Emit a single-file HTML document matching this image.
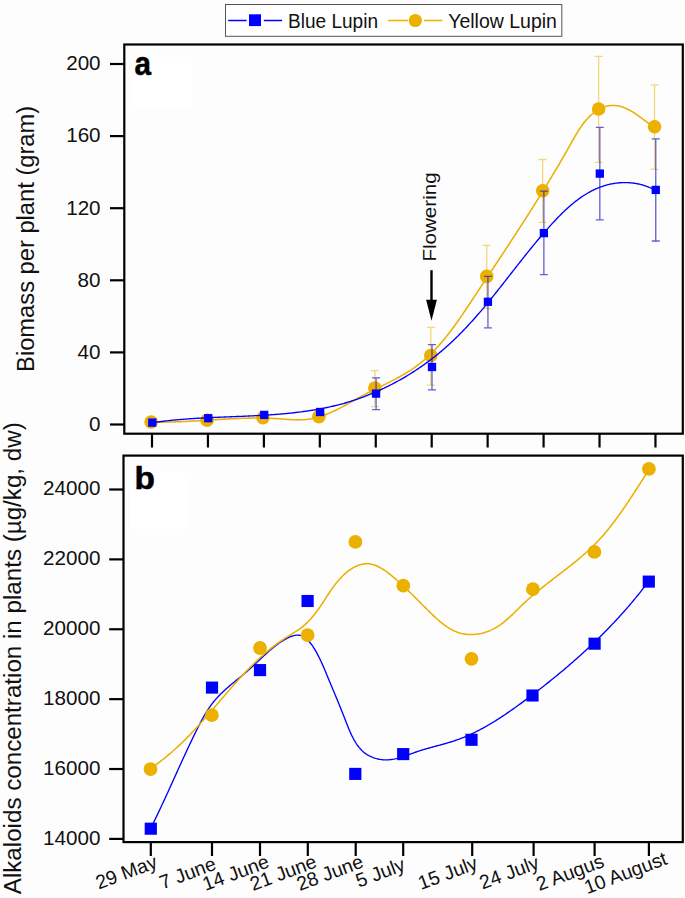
<!DOCTYPE html><html><head><meta charset="utf-8"><style>html,body{margin:0;padding:0;background:#fdfdfd;}svg{display:block;}text{font-family:"Liberation Sans", sans-serif;}</style></head><body>
<svg width="685" height="898" viewBox="0 0 685 898">
<rect x="0" y="0" width="685" height="898" fill="#fdfdfd"/>
<rect x="225.5" y="4.5" width="336.3" height="31.8" fill="#fff" stroke="#555" stroke-width="1"/>
<path d="M228.2,20.5 H246.6 M263.8,20.5 H282.1" stroke="#0000ff" stroke-width="1.6"/>
<rect x="249" y="14.3" width="12" height="11.8" fill="#0000ff"/>
<text x="288" y="28" font-size="20" fill="#111" textLength="90" lengthAdjust="spacingAndGlyphs">Blue Lupin</text>
<path d="M388.1,20.5 H408 M424,20.5 H442.4" stroke="#ebb000" stroke-width="1.6"/>
<circle cx="415.3" cy="20.5" r="6.6" fill="#ebb000"/>
<text x="448.2" y="28" font-size="20" fill="#111" textLength="108.7" lengthAdjust="spacingAndGlyphs">Yellow Lupin</text>
<rect x="132.2" y="56.7" width="60.7" height="50.2" fill="#fff"/>
<rect x="124.30" y="44.50" width="558.50" height="389.20" fill="none" stroke="#000" stroke-width="2.2"/>
<line x1="110" y1="424.50" x2="124.3" y2="424.50" stroke="#000" stroke-width="2.2"/>
<text transform="translate(100.6,430.80) scale(1.06,1)" font-size="19.5" text-anchor="end" fill="#111">0</text>
<line x1="110" y1="352.40" x2="124.3" y2="352.40" stroke="#000" stroke-width="2.2"/>
<text transform="translate(100.6,358.70) scale(1.06,1)" font-size="19.5" text-anchor="end" fill="#111">40</text>
<line x1="110" y1="280.30" x2="124.3" y2="280.30" stroke="#000" stroke-width="2.2"/>
<text transform="translate(100.6,286.60) scale(1.06,1)" font-size="19.5" text-anchor="end" fill="#111">80</text>
<line x1="110" y1="208.20" x2="124.3" y2="208.20" stroke="#000" stroke-width="2.2"/>
<text transform="translate(100.6,214.50) scale(1.06,1)" font-size="19.5" text-anchor="end" fill="#111">120</text>
<line x1="110" y1="136.10" x2="124.3" y2="136.10" stroke="#000" stroke-width="2.2"/>
<text transform="translate(100.6,142.40) scale(1.06,1)" font-size="19.5" text-anchor="end" fill="#111">160</text>
<line x1="110" y1="64.00" x2="124.3" y2="64.00" stroke="#000" stroke-width="2.2"/>
<text transform="translate(100.6,70.30) scale(1.06,1)" font-size="19.5" text-anchor="end" fill="#111">200</text>
<line x1="152.00" y1="433.7" x2="152.00" y2="447.5" stroke="#000" stroke-width="2.2"/>
<line x1="207.94" y1="433.7" x2="207.94" y2="447.5" stroke="#000" stroke-width="2.2"/>
<line x1="263.88" y1="433.7" x2="263.88" y2="447.5" stroke="#000" stroke-width="2.2"/>
<line x1="319.82" y1="433.7" x2="319.82" y2="447.5" stroke="#000" stroke-width="2.2"/>
<line x1="375.76" y1="433.7" x2="375.76" y2="447.5" stroke="#000" stroke-width="2.2"/>
<line x1="431.70" y1="433.7" x2="431.70" y2="447.5" stroke="#000" stroke-width="2.2"/>
<line x1="487.64" y1="433.7" x2="487.64" y2="447.5" stroke="#000" stroke-width="2.2"/>
<line x1="543.58" y1="433.7" x2="543.58" y2="447.5" stroke="#000" stroke-width="2.2"/>
<line x1="599.52" y1="433.7" x2="599.52" y2="447.5" stroke="#000" stroke-width="2.2"/>
<line x1="655.46" y1="433.7" x2="655.46" y2="447.5" stroke="#000" stroke-width="2.2"/>
<text transform="translate(134.6,74.8) scale(0.9,1)" font-size="33" font-weight="bold" fill="#000" stroke="#000" stroke-width="0.5">a</text>
<text transform="translate(33.5,371.9) rotate(-90)" font-size="23.5" fill="#111" textLength="266.1" lengthAdjust="spacingAndGlyphs">Biomass per plant (gram)</text>
<text transform="translate(436.3,261.6) rotate(-90)" font-size="18.5" fill="#111" textLength="89.2" lengthAdjust="spacingAndGlyphs">Flowering</text>
<line x1="431.5" y1="270.2" x2="431.5" y2="301" stroke="#000" stroke-width="2.4"/>
<path d="M426.1,299.8 L436.9,299.8 L431.5,320.8 Z" fill="#000"/>
<path d="M374.86,370.60 V406.60 M370.86,370.60 H378.86 M370.86,406.60 H378.86" stroke="rgba(235,176,0,0.5)" stroke-width="1.3" fill="none"/>
<path d="M430.80,327.40 V385.20 M426.80,327.40 H434.80 M426.80,385.20 H434.80" stroke="rgba(235,176,0,0.5)" stroke-width="1.3" fill="none"/>
<path d="M486.74,245.30 V308.50 M482.74,245.30 H490.74 M482.74,308.50 H490.74" stroke="rgba(235,176,0,0.5)" stroke-width="1.3" fill="none"/>
<path d="M542.68,159.50 V222.40 M538.68,159.50 H546.68 M538.68,222.40 H546.68" stroke="rgba(235,176,0,0.5)" stroke-width="1.3" fill="none"/>
<path d="M598.62,56.40 V162.30 M594.62,56.40 H602.62 M594.62,162.30 H602.62" stroke="rgba(235,176,0,0.5)" stroke-width="1.3" fill="none"/>
<path d="M654.56,84.90 V169.30 M650.56,84.90 H658.56 M650.56,169.30 H658.56" stroke="rgba(235,176,0,0.5)" stroke-width="1.3" fill="none"/>
<path d="M151.47,422.01 L152.61,422.03 L153.75,422.06 L154.90,422.07 L156.03,422.09 L157.17,422.10 L158.31,422.11 L159.44,422.11 L160.57,422.12 L161.69,422.12 L162.82,422.11 L163.94,422.10 L165.07,422.09 L166.19,422.08 L167.30,422.06 L168.42,422.05 L169.53,422.02 L170.65,422.00 L171.76,421.97 L172.87,421.95 L173.97,421.91 L175.08,421.88 L176.18,421.85 L177.28,421.81 L178.39,421.77 L179.49,421.73 L180.58,421.68 L181.68,421.64 L182.78,421.59 L183.87,421.54 L184.96,421.49 L186.05,421.44 L187.14,421.38 L188.23,421.33 L189.32,421.27 L190.41,421.21 L191.49,421.15 L192.58,421.09 L193.66,421.03 L194.74,420.97 L195.83,420.91 L196.91,420.84 L197.99,420.78 L199.07,420.71 L200.15,420.65 L201.23,420.58 L202.30,420.51 L203.38,420.44 L204.46,420.38 L205.53,420.31 L206.61,420.24 L207.68,420.17 L208.76,420.10 L209.83,420.03 L210.91,419.96 L211.98,419.89 L213.05,419.83 L214.13,419.76 L215.20,419.69 L216.27,419.62 L217.34,419.56 L218.42,419.49 L219.49,419.42 L220.56,419.36 L221.64,419.29 L222.71,419.23 L223.78,419.17 L224.85,419.11 L225.93,419.05 L227.00,418.99 L228.08,418.93 L229.15,418.87 L230.23,418.82 L231.30,418.76 L232.38,418.71 L233.45,418.66 L234.53,418.61 L235.61,418.56 L236.68,418.51 L237.76,418.47 L238.84,418.43 L239.92,418.39 L241.00,418.35 L242.09,418.31 L243.17,418.28 L244.25,418.25 L245.34,418.22 L246.42,418.19 L247.51,418.17 L248.60,418.14 L249.68,418.12 L250.77,418.11 L251.86,418.09 L252.96,418.08 L254.05,418.07 L255.14,418.07 L256.24,418.07 L257.34,418.07 L258.44,418.07 L259.54,418.08 L260.64,418.09 L261.74,418.10 L262.85,418.12 L263.95,418.14 L265.06,418.17 L266.17,418.20 L267.28,418.23 L268.40,418.26 L269.51,418.30 L270.63,418.35 L271.75,418.40 L272.87,418.45 L273.99,418.50 L275.12,418.56 L276.24,418.63 L277.37,418.70 L278.50,418.77 L279.64,418.85 L280.77,418.93 L281.91,419.01 L283.05,419.10 L284.18,419.18 L285.32,419.26 L286.46,419.35 L287.60,419.43 L288.73,419.50 L289.87,419.57 L291.01,419.64 L292.14,419.70 L293.27,419.75 L294.40,419.79 L295.52,419.83 L296.65,419.85 L297.77,419.87 L298.88,419.87 L299.99,419.85 L301.10,419.83 L302.21,419.79 L303.30,419.73 L304.40,419.66 L305.48,419.57 L306.56,419.46 L307.64,419.33 L308.71,419.18 L309.77,419.02 L310.83,418.84 L311.89,418.65 L312.94,418.44 L313.98,418.21 L315.02,417.97 L316.06,417.71 L317.09,417.44 L318.11,417.16 L319.13,416.86 L320.15,416.55 L321.17,416.22 L322.18,415.89 L323.19,415.54 L324.19,415.18 L325.19,414.80 L326.19,414.42 L327.18,414.02 L328.17,413.62 L329.16,413.21 L330.15,412.78 L331.13,412.35 L332.11,411.91 L333.09,411.46 L334.07,411.00 L335.04,410.53 L336.02,410.06 L336.99,409.58 L337.96,409.09 L338.93,408.60 L339.90,408.10 L340.86,407.60 L341.83,407.09 L342.80,406.57 L343.76,406.06 L344.72,405.53 L345.69,405.01 L346.65,404.48 L347.62,403.95 L348.58,403.41 L349.54,402.88 L350.51,402.34 L351.47,401.80 L352.44,401.26 L353.40,400.72 L354.37,400.18 L355.34,399.64 L356.31,399.10 L357.28,398.56 L358.25,398.03 L359.22,397.49 L360.20,396.96 L361.17,396.43 L362.15,395.90 L363.14,395.38 L364.12,394.85 L365.10,394.34 L366.09,393.82 L367.08,393.31 L368.07,392.80 L369.07,392.29 L370.06,391.79 L371.06,391.29 L372.05,390.79 L373.05,390.29 L374.05,389.79 L375.05,389.30 L376.04,388.80 L377.04,388.31 L378.04,387.82 L379.04,387.33 L380.04,386.84 L381.04,386.34 L382.04,385.85 L383.03,385.36 L384.03,384.87 L385.03,384.37 L386.02,383.88 L387.01,383.38 L388.00,382.89 L388.99,382.39 L389.98,381.89 L390.97,381.39 L391.95,380.88 L392.93,380.38 L393.91,379.87 L394.88,379.36 L395.86,378.84 L396.83,378.32 L397.79,377.80 L398.76,377.28 L399.72,376.75 L400.67,376.21 L401.63,375.68 L402.58,375.14 L403.52,374.59 L404.46,374.04 L405.40,373.48 L406.33,372.92 L407.26,372.35 L408.18,371.78 L409.10,371.20 L410.01,370.62 L410.91,370.03 L411.81,369.43 L412.71,368.83 L413.60,368.22 L414.48,367.60 L415.36,366.97 L416.23,366.34 L417.09,365.70 L417.95,365.05 L418.81,364.40 L419.65,363.74 L420.49,363.07 L421.33,362.40 L422.16,361.71 L422.98,361.02 L423.80,360.33 L424.61,359.63 L425.42,358.92 L426.22,358.21 L427.01,357.48 L427.80,356.76 L428.59,356.02 L429.37,355.29 L430.15,354.54 L430.92,353.79 L431.68,353.03 L432.44,352.27 L433.20,351.51 L433.95,350.73 L434.70,349.96 L435.44,349.17 L436.18,348.38 L436.91,347.59 L437.64,346.79 L438.37,345.99 L439.09,345.18 L439.81,344.37 L440.52,343.55 L441.23,342.73 L441.94,341.91 L442.64,341.08 L443.34,340.24 L444.03,339.41 L444.72,338.56 L445.41,337.72 L446.09,336.87 L446.77,336.02 L447.45,335.16 L448.13,334.30 L448.80,333.44 L449.47,332.57 L450.13,331.70 L450.80,330.83 L451.46,329.95 L452.11,329.07 L452.77,328.19 L453.42,327.30 L454.07,326.42 L454.72,325.53 L455.36,324.63 L456.00,323.74 L456.64,322.84 L457.28,321.94 L457.92,321.04 L458.55,320.14 L459.19,319.23 L459.82,318.33 L460.45,317.42 L461.07,316.51 L461.70,315.60 L462.32,314.68 L462.95,313.77 L463.57,312.85 L464.19,311.93 L464.81,311.02 L465.42,310.10 L466.04,309.18 L466.66,308.26 L467.27,307.34 L467.89,306.42 L468.50,305.49 L469.11,304.57 L469.72,303.65 L470.34,302.72 L470.95,301.80 L471.56,300.88 L472.17,299.96 L472.78,299.03 L473.39,298.11 L474.00,297.19 L474.61,296.27 L475.22,295.34 L475.83,294.42 L476.44,293.50 L477.05,292.58 L477.66,291.66 L478.26,290.74 L478.87,289.82 L479.48,288.90 L480.09,287.99 L480.70,287.07 L481.31,286.15 L481.92,285.23 L482.53,284.31 L483.13,283.40 L483.74,282.48 L484.35,281.56 L484.96,280.65 L485.57,279.73 L486.17,278.81 L486.78,277.90 L487.39,276.98 L487.99,276.07 L488.60,275.15 L489.21,274.23 L489.82,273.32 L490.42,272.41 L491.03,271.49 L491.63,270.58 L492.24,269.66 L492.84,268.75 L493.45,267.83 L494.06,266.92 L494.66,266.01 L495.27,265.09 L495.87,264.18 L496.47,263.26 L497.08,262.35 L497.68,261.44 L498.29,260.52 L498.89,259.61 L499.49,258.70 L500.09,257.78 L500.70,256.87 L501.30,255.96 L501.90,255.04 L502.50,254.13 L503.11,253.22 L503.71,252.31 L504.31,251.39 L504.91,250.48 L505.51,249.57 L506.11,248.65 L506.71,247.74 L507.31,246.83 L507.91,245.91 L508.51,245.00 L509.11,244.08 L509.71,243.17 L510.30,242.26 L510.90,241.34 L511.50,240.43 L512.10,239.51 L512.69,238.60 L513.29,237.69 L513.89,236.77 L514.48,235.86 L515.08,234.94 L515.67,234.03 L516.27,233.11 L516.86,232.19 L517.46,231.28 L518.05,230.36 L518.64,229.45 L519.24,228.53 L519.83,227.61 L520.42,226.70 L521.01,225.78 L521.61,224.86 L522.20,223.94 L522.79,223.03 L523.38,222.11 L523.97,221.19 L524.56,220.27 L525.15,219.35 L525.74,218.43 L526.32,217.51 L526.91,216.59 L527.50,215.67 L528.09,214.75 L528.67,213.83 L529.26,212.91 L529.85,211.99 L530.43,211.07 L531.02,210.14 L531.60,209.22 L532.19,208.30 L532.77,207.37 L533.35,206.45 L533.94,205.52 L534.52,204.60 L535.10,203.67 L535.68,202.75 L536.26,201.82 L536.84,200.89 L537.42,199.97 L538.00,199.04 L538.58,198.11 L539.16,197.18 L539.74,196.25 L540.31,195.32 L540.89,194.39 L541.47,193.46 L542.04,192.53 L542.62,191.60 L543.19,190.66 L543.77,189.73 L544.34,188.80 L544.91,187.86 L545.49,186.93 L546.06,185.99 L546.63,185.05 L547.20,184.12 L547.77,183.18 L548.34,182.24 L548.91,181.30 L549.48,180.36 L550.05,179.42 L550.62,178.48 L551.18,177.54 L551.75,176.60 L552.32,175.66 L552.88,174.71 L553.45,173.77 L554.01,172.82 L554.57,171.88 L555.14,170.93 L555.70,169.98 L556.26,169.04 L556.82,168.09 L557.38,167.14 L557.94,166.19 L558.50,165.24 L559.06,164.29 L559.62,163.33 L560.17,162.38 L560.73,161.43 L561.29,160.47 L561.84,159.51 L562.40,158.56 L562.95,157.60 L563.50,156.64 L564.06,155.68 L564.61,154.72 L565.16,153.76 L565.71,152.80 L566.26,151.84 L566.81,150.87 L567.36,149.91 L567.91,148.94 L568.45,147.98 L569.00,147.01 L569.55,146.04 L570.09,145.07 L570.64,144.10 L571.18,143.13 L571.72,142.16 L572.27,141.19 L572.81,140.22 L573.36,139.25 L573.90,138.28 L574.46,137.31 L575.01,136.35 L575.57,135.39 L576.13,134.43 L576.69,133.48 L577.27,132.53 L577.84,131.59 L578.43,130.65 L579.02,129.72 L579.62,128.80 L580.22,127.88 L580.84,126.98 L581.46,126.08 L582.10,125.19 L582.74,124.31 L583.40,123.44 L584.07,122.58 L584.75,121.73 L585.44,120.90 L586.14,120.08 L586.86,119.27 L587.60,118.47 L588.34,117.69 L589.11,116.92 L589.89,116.17 L590.68,115.43 L591.50,114.71 L592.33,114.00 L593.18,113.32 L594.04,112.65 L594.92,112.00 L595.82,111.37 L596.73,110.77 L597.66,110.19 L598.59,109.64 L599.54,109.12 L600.51,108.62 L601.48,108.16 L602.46,107.72 L603.45,107.32 L604.45,106.95 L605.46,106.62 L606.47,106.32 L607.49,106.07 L608.51,105.85 L609.54,105.68 L610.58,105.54 L611.61,105.45 L612.65,105.41 L613.69,105.41 L614.73,105.45 L615.77,105.54 L616.81,105.68 L617.85,105.85 L618.89,106.06 L619.93,106.30 L620.97,106.59 L622.00,106.91 L623.03,107.26 L624.06,107.64 L625.09,108.05 L626.11,108.49 L627.12,108.96 L628.13,109.45 L629.14,109.97 L630.14,110.51 L631.13,111.07 L632.12,111.65 L633.10,112.25 L634.07,112.87 L635.03,113.50 L635.99,114.14 L636.94,114.80 L637.88,115.46 L638.81,116.13 L639.74,116.80 L640.66,117.48 L641.58,118.16 L642.49,118.84 L643.40,119.51 L644.30,120.18 L645.19,120.84 L646.08,121.49 L646.97,122.13 L647.85,122.75 L648.73,123.36 L649.61,123.95 L650.49,124.53 L651.36,125.08 L652.23,125.60 L653.10,126.10 L653.96,126.57" stroke="#ebb000" stroke-width="1.55" fill="none" stroke-linejoin="round"/>
<circle cx="151.10" cy="422.00" r="6.8" fill="#ebb000"/>
<circle cx="207.04" cy="420.20" r="6.8" fill="#ebb000"/>
<circle cx="262.98" cy="417.80" r="6.8" fill="#ebb000"/>
<circle cx="318.92" cy="416.60" r="6.8" fill="#ebb000"/>
<circle cx="374.86" cy="388.00" r="6.8" fill="#ebb000"/>
<circle cx="430.80" cy="355.50" r="6.8" fill="#ebb000"/>
<circle cx="486.74" cy="276.40" r="6.8" fill="#ebb000"/>
<circle cx="542.68" cy="190.80" r="6.8" fill="#ebb000"/>
<circle cx="598.62" cy="109.00" r="6.8" fill="#ebb000"/>
<circle cx="654.56" cy="126.80" r="6.8" fill="#ebb000"/>
<path d="M376.06,377.80 V409.70 M372.06,377.80 H380.06 M372.06,409.70 H380.06" stroke="rgba(30,30,190,0.7)" stroke-width="1.3" fill="none"/>
<path d="M432.00,344.70 V389.80 M428.00,344.70 H436.00 M428.00,389.80 H436.00" stroke="rgba(30,30,190,0.7)" stroke-width="1.3" fill="none"/>
<path d="M487.94,276.40 V327.90 M483.94,276.40 H491.94 M483.94,327.90 H491.94" stroke="rgba(30,30,190,0.7)" stroke-width="1.3" fill="none"/>
<path d="M543.88,191.20 V274.60 M539.88,191.20 H547.88 M539.88,274.60 H547.88" stroke="rgba(30,30,190,0.7)" stroke-width="1.3" fill="none"/>
<path d="M599.82,127.30 V219.80 M595.82,127.30 H603.82 M595.82,219.80 H603.82" stroke="rgba(30,30,190,0.7)" stroke-width="1.3" fill="none"/>
<path d="M655.76,138.80 V241.00 M651.76,138.80 H659.76 M651.76,241.00 H659.76" stroke="rgba(30,30,190,0.7)" stroke-width="1.3" fill="none"/>
<path d="M151.64,422.85 L152.60,422.71 L153.57,422.56 L154.53,422.42 L155.50,422.28 L156.46,422.14 L157.43,422.01 L158.40,421.88 L159.37,421.75 L160.34,421.62 L161.31,421.50 L162.28,421.37 L163.25,421.26 L164.22,421.14 L165.19,421.02 L166.17,420.91 L167.14,420.80 L168.11,420.69 L169.09,420.59 L170.06,420.48 L171.04,420.38 L172.02,420.28 L172.99,420.18 L173.97,420.09 L174.95,419.99 L175.93,419.90 L176.91,419.81 L177.89,419.72 L178.87,419.64 L179.85,419.55 L180.83,419.47 L181.81,419.39 L182.79,419.31 L183.78,419.23 L184.76,419.15 L185.74,419.08 L186.73,419.00 L187.71,418.93 L188.69,418.86 L189.68,418.79 L190.67,418.73 L191.65,418.66 L192.64,418.60 L193.62,418.53 L194.61,418.47 L195.60,418.41 L196.59,418.35 L197.57,418.29 L198.56,418.23 L199.55,418.18 L200.54,418.12 L201.53,418.07 L202.52,418.01 L203.51,417.96 L204.50,417.91 L205.49,417.86 L206.48,417.81 L207.47,417.76 L208.47,417.71 L209.46,417.66 L210.45,417.62 L211.44,417.57 L212.43,417.53 L213.43,417.48 L214.42,417.44 L215.41,417.39 L216.40,417.35 L217.40,417.31 L218.39,417.27 L219.39,417.22 L220.38,417.18 L221.37,417.14 L222.37,417.10 L223.36,417.06 L224.36,417.02 L225.35,416.98 L226.35,416.94 L227.34,416.90 L228.34,416.86 L229.33,416.82 L230.33,416.78 L231.32,416.74 L232.32,416.70 L233.31,416.66 L234.31,416.62 L235.30,416.58 L236.30,416.54 L237.29,416.50 L238.29,416.46 L239.28,416.42 L240.28,416.38 L241.27,416.34 L242.27,416.30 L243.26,416.26 L244.26,416.21 L245.25,416.17 L246.25,416.13 L247.24,416.08 L248.24,416.04 L249.23,415.99 L250.23,415.95 L251.22,415.90 L252.22,415.85 L253.21,415.80 L254.21,415.75 L255.20,415.70 L256.20,415.65 L257.19,415.60 L258.18,415.55 L259.18,415.50 L260.17,415.44 L261.17,415.39 L262.16,415.33 L263.15,415.27 L264.14,415.21 L265.14,415.15 L266.13,415.09 L267.12,415.03 L268.11,414.97 L269.11,414.90 L270.10,414.83 L271.09,414.77 L272.08,414.70 L273.07,414.63 L274.06,414.55 L275.05,414.48 L276.04,414.41 L277.03,414.33 L278.02,414.25 L279.01,414.17 L280.00,414.09 L280.98,414.01 L281.97,413.92 L282.96,413.83 L283.95,413.75 L284.93,413.65 L285.92,413.56 L286.91,413.47 L287.89,413.37 L288.88,413.27 L289.86,413.17 L290.85,413.07 L291.83,412.97 L292.81,412.86 L293.80,412.75 L294.78,412.64 L295.76,412.53 L296.74,412.41 L297.72,412.29 L298.71,412.17 L299.69,412.05 L300.67,411.93 L301.64,411.80 L302.62,411.67 L303.60,411.54 L304.58,411.40 L305.56,411.27 L306.53,411.13 L307.51,410.98 L308.48,410.84 L309.46,410.69 L310.43,410.54 L311.41,410.39 L312.38,410.23 L313.35,410.07 L314.33,409.91 L315.30,409.74 L316.27,409.58 L317.24,409.41 L318.21,409.23 L319.18,409.06 L320.14,408.88 L321.11,408.69 L322.08,408.51 L323.04,408.32 L324.01,408.12 L324.97,407.93 L325.94,407.73 L326.90,407.53 L327.86,407.32 L328.83,407.11 L329.79,406.90 L330.75,406.68 L331.71,406.46 L332.66,406.24 L333.62,406.01 L334.58,405.78 L335.54,405.55 L336.49,405.31 L337.45,405.07 L338.40,404.83 L339.35,404.58 L340.31,404.32 L341.26,404.07 L342.21,403.81 L343.16,403.54 L344.11,403.28 L345.05,403.00 L346.00,402.73 L346.95,402.45 L347.89,402.17 L348.84,401.88 L349.78,401.59 L350.72,401.29 L351.66,400.99 L352.60,400.69 L353.54,400.39 L354.48,400.08 L355.42,399.76 L356.36,399.44 L357.29,399.12 L358.22,398.80 L359.16,398.47 L360.09,398.14 L361.02,397.80 L361.95,397.46 L362.88,397.12 L363.80,396.77 L364.73,396.42 L365.65,396.07 L366.58,395.71 L367.50,395.35 L368.42,394.98 L369.34,394.62 L370.26,394.24 L371.18,393.87 L372.09,393.49 L373.00,393.11 L373.92,392.72 L374.83,392.33 L375.74,391.94 L376.65,391.54 L377.56,391.14 L378.46,390.74 L379.37,390.33 L380.27,389.92 L381.17,389.50 L382.07,389.09 L382.97,388.67 L383.86,388.24 L384.76,387.81 L385.65,387.38 L386.55,386.95 L387.44,386.51 L388.32,386.07 L389.21,385.62 L390.10,385.18 L390.98,384.73 L391.86,384.27 L392.74,383.81 L393.62,383.35 L394.50,382.89 L395.38,382.42 L396.25,381.95 L397.12,381.47 L397.99,381.00 L398.86,380.52 L399.73,380.03 L400.59,379.55 L401.46,379.06 L402.32,378.56 L403.18,378.07 L404.03,377.57 L404.89,377.06 L405.74,376.56 L406.59,376.05 L407.44,375.54 L408.29,375.02 L409.14,374.50 L409.98,373.98 L410.82,373.46 L411.66,372.93 L412.50,372.40 L413.34,371.87 L414.17,371.33 L415.00,370.79 L415.83,370.25 L416.66,369.70 L417.48,369.15 L418.30,368.60 L419.13,368.05 L419.94,367.49 L420.76,366.93 L421.58,366.36 L422.39,365.80 L423.20,365.23 L424.00,364.66 L424.81,364.08 L425.61,363.50 L426.41,362.92 L427.21,362.34 L428.01,361.75 L428.80,361.16 L429.59,360.57 L430.38,359.98 L431.17,359.38 L431.95,358.78 L432.73,358.18 L433.51,357.57 L434.29,356.96 L435.07,356.35 L435.84,355.74 L436.61,355.12 L437.37,354.50 L438.14,353.88 L438.90,353.25 L439.66,352.63 L440.42,351.99 L441.17,351.36 L441.92,350.73 L442.67,350.09 L443.42,349.45 L444.16,348.80 L444.90,348.16 L445.64,347.51 L446.38,346.86 L447.11,346.20 L447.84,345.55 L448.57,344.89 L449.29,344.23 L450.02,343.56 L450.74,342.90 L451.46,342.23 L452.17,341.56 L452.88,340.89 L453.60,340.21 L454.30,339.53 L455.01,338.85 L455.71,338.17 L456.42,337.49 L457.12,336.80 L457.81,336.11 L458.51,335.42 L459.20,334.73 L459.89,334.03 L460.58,333.34 L461.27,332.64 L461.96,331.94 L462.64,331.23 L463.32,330.53 L464.00,329.82 L464.68,329.11 L465.35,328.40 L466.03,327.69 L466.70,326.97 L467.37,326.26 L468.04,325.54 L468.70,324.82 L469.37,324.10 L470.03,323.37 L470.69,322.65 L471.35,321.92 L472.01,321.19 L472.67,320.46 L473.32,319.73 L473.97,319.00 L474.63,318.26 L475.28,317.52 L475.93,316.79 L476.57,316.05 L477.22,315.31 L477.86,314.56 L478.51,313.82 L479.15,313.07 L479.79,312.33 L480.43,311.58 L481.07,310.83 L481.71,310.08 L482.34,309.33 L482.98,308.58 L483.61,307.82 L484.25,307.07 L484.88,306.31 L485.51,305.55 L486.14,304.79 L486.77,304.03 L487.40,303.27 L488.02,302.51 L488.65,301.75 L489.27,300.98 L489.90,300.22 L490.52,299.45 L491.14,298.68 L491.77,297.92 L492.39,297.15 L493.01,296.38 L493.63,295.61 L494.25,294.83 L494.87,294.06 L495.48,293.29 L496.10,292.52 L496.72,291.74 L497.34,290.97 L497.95,290.19 L498.57,289.41 L499.18,288.64 L499.80,287.86 L500.41,287.08 L501.03,286.30 L501.64,285.52 L502.25,284.74 L502.87,283.96 L503.48,283.18 L504.09,282.40 L504.70,281.62 L505.32,280.84 L505.93,280.06 L506.54,279.27 L507.15,278.49 L507.76,277.71 L508.38,276.93 L508.99,276.14 L509.60,275.36 L510.21,274.57 L510.83,273.79 L511.44,273.01 L512.05,272.22 L512.66,271.44 L513.28,270.65 L513.89,269.87 L514.50,269.08 L515.12,268.30 L515.73,267.51 L516.34,266.73 L516.96,265.95 L517.57,265.16 L518.19,264.38 L518.81,263.59 L519.42,262.81 L520.04,262.03 L520.66,261.24 L521.28,260.46 L521.89,259.68 L522.51,258.89 L523.13,258.11 L523.75,257.33 L524.38,256.55 L525.00,255.77 L525.62,254.99 L526.24,254.21 L526.87,253.43 L527.49,252.65 L528.12,251.87 L528.75,251.09 L529.37,250.31 L530.00,249.54 L530.63,248.76 L531.26,247.98 L531.90,247.21 L532.53,246.43 L533.16,245.66 L533.80,244.89 L534.43,244.12 L535.07,243.34 L535.71,242.57 L536.35,241.80 L536.99,241.04 L537.63,240.27 L538.28,239.50 L538.92,238.73 L539.57,237.97 L540.22,237.20 L540.87,236.44 L541.52,235.68 L542.17,234.92 L542.82,234.16 L543.48,233.40 L544.13,232.64 L544.79,231.88 L545.45,231.13 L546.11,230.37 L546.78,229.62 L547.44,228.87 L548.11,228.12 L548.78,227.37 L549.45,226.62 L550.12,225.87 L550.79,225.13 L551.47,224.39 L552.14,223.64 L552.82,222.90 L553.50,222.17 L554.19,221.43 L554.87,220.70 L555.56,219.97 L556.25,219.24 L556.94,218.51 L557.64,217.79 L558.34,217.07 L559.04,216.35 L559.74,215.64 L560.44,214.93 L561.15,214.23 L561.86,213.52 L562.57,212.83 L563.29,212.13 L564.00,211.44 L564.72,210.76 L565.45,210.08 L566.17,209.40 L566.90,208.73 L567.64,208.06 L568.37,207.40 L569.11,206.75 L569.85,206.10 L570.60,205.45 L571.34,204.82 L572.09,204.18 L572.85,203.56 L573.61,202.94 L574.37,202.32 L575.13,201.71 L575.90,201.11 L576.67,200.52 L577.45,199.93 L578.23,199.35 L579.01,198.78 L579.80,198.21 L580.59,197.65 L581.39,197.10 L582.18,196.56 L582.99,196.03 L583.79,195.50 L584.60,194.98 L585.42,194.47 L586.24,193.97 L587.06,193.48 L587.89,192.99 L588.72,192.52 L589.55,192.05 L590.40,191.60 L591.24,191.15 L592.09,190.71 L592.94,190.29 L593.80,189.87 L594.66,189.46 L595.53,189.06 L596.41,188.68 L597.28,188.30 L598.17,187.94 L599.05,187.58 L599.94,187.24 L600.84,186.90 L601.74,186.58 L602.65,186.27 L603.56,185.97 L604.48,185.69 L605.40,185.41 L606.32,185.15 L607.25,184.89 L608.18,184.65 L609.12,184.43 L610.06,184.21 L611.00,184.01 L611.95,183.82 L612.90,183.64 L613.85,183.48 L614.81,183.33 L615.76,183.19 L616.73,183.07 L617.69,182.96 L618.66,182.86 L619.63,182.78 L620.60,182.71 L621.57,182.65 L622.55,182.61 L623.53,182.59 L624.50,182.57 L625.49,182.57 L626.47,182.59 L627.45,182.62 L628.44,182.67 L629.42,182.73 L630.41,182.81 L631.40,182.90 L632.39,183.01 L633.38,183.13 L634.37,183.27 L635.36,183.43 L636.35,183.60 L637.34,183.78 L638.33,183.99 L639.32,184.21 L640.31,184.44 L641.30,184.70 L642.28,184.97 L643.27,185.25 L644.26,185.56 L645.25,185.88 L646.23,186.22 L647.22,186.57 L648.20,186.95 L649.18,187.34 L650.16,187.75 L651.14,188.18 L652.11,188.62 L653.09,189.09 L654.06,189.57 L655.03,190.07 L656.00,190.59" stroke="#0000ff" stroke-width="1.35" fill="none" stroke-linejoin="round"/>
<rect x="148.15" y="418.45" width="8.3" height="8.3" fill="#0000ff"/>
<rect x="204.09" y="414.05" width="8.3" height="8.3" fill="#0000ff"/>
<rect x="260.03" y="410.75" width="8.3" height="8.3" fill="#0000ff"/>
<rect x="315.97" y="407.85" width="8.3" height="8.3" fill="#0000ff"/>
<rect x="371.91" y="389.45" width="8.3" height="8.3" fill="#0000ff"/>
<rect x="427.85" y="362.85" width="8.3" height="8.3" fill="#0000ff"/>
<rect x="483.79" y="297.65" width="8.3" height="8.3" fill="#0000ff"/>
<rect x="539.73" y="228.95" width="8.3" height="8.3" fill="#0000ff"/>
<rect x="595.67" y="169.45" width="8.3" height="8.3" fill="#0000ff"/>
<rect x="651.61" y="185.75" width="8.3" height="8.3" fill="#0000ff"/>
<rect x="129.8" y="472.4" width="60.8" height="57.2" fill="#fff"/>
<rect x="123.50" y="455.60" width="559.30" height="386.50" fill="none" stroke="#000" stroke-width="2.2"/>
<line x1="109.2" y1="838.90" x2="123.5" y2="838.90" stroke="#000" stroke-width="2.2"/>
<text transform="translate(100.4,844.70) scale(1.06,1)" font-size="19.5" text-anchor="end" fill="#111">14000</text>
<line x1="109.2" y1="769.02" x2="123.5" y2="769.02" stroke="#000" stroke-width="2.2"/>
<text transform="translate(100.4,774.82) scale(1.06,1)" font-size="19.5" text-anchor="end" fill="#111">16000</text>
<line x1="109.2" y1="699.14" x2="123.5" y2="699.14" stroke="#000" stroke-width="2.2"/>
<text transform="translate(100.4,704.94) scale(1.06,1)" font-size="19.5" text-anchor="end" fill="#111">18000</text>
<line x1="109.2" y1="629.26" x2="123.5" y2="629.26" stroke="#000" stroke-width="2.2"/>
<text transform="translate(100.4,635.06) scale(1.06,1)" font-size="19.5" text-anchor="end" fill="#111">20000</text>
<line x1="109.2" y1="559.38" x2="123.5" y2="559.38" stroke="#000" stroke-width="2.2"/>
<text transform="translate(100.4,565.18) scale(1.06,1)" font-size="19.5" text-anchor="end" fill="#111">22000</text>
<line x1="109.2" y1="489.50" x2="123.5" y2="489.50" stroke="#000" stroke-width="2.2"/>
<text transform="translate(100.4,495.30) scale(1.06,1)" font-size="19.5" text-anchor="end" fill="#111">24000</text>
<line x1="150.80" y1="842.1" x2="150.80" y2="856" stroke="#000" stroke-width="2.2"/>
<line x1="212.00" y1="842.1" x2="212.00" y2="856" stroke="#000" stroke-width="2.2"/>
<line x1="260.00" y1="842.1" x2="260.00" y2="856" stroke="#000" stroke-width="2.2"/>
<line x1="307.80" y1="842.1" x2="307.80" y2="856" stroke="#000" stroke-width="2.2"/>
<line x1="355.70" y1="842.1" x2="355.70" y2="856" stroke="#000" stroke-width="2.2"/>
<line x1="403.20" y1="842.1" x2="403.20" y2="856" stroke="#000" stroke-width="2.2"/>
<line x1="472.20" y1="842.1" x2="472.20" y2="856" stroke="#000" stroke-width="2.2"/>
<line x1="533.60" y1="842.1" x2="533.60" y2="856" stroke="#000" stroke-width="2.2"/>
<line x1="594.60" y1="842.1" x2="594.60" y2="856" stroke="#000" stroke-width="2.2"/>
<line x1="648.90" y1="842.1" x2="648.90" y2="856" stroke="#000" stroke-width="2.2"/>
<text transform="translate(134.4,489.4) scale(1.06,1)" font-size="31.5" font-weight="bold" fill="#000" stroke="#000" stroke-width="0.6">b</text>
<text transform="translate(20.7,894.2) rotate(-90)" font-size="23.5" fill="#111" textLength="471.9" lengthAdjust="spacingAndGlyphs">Alkaloids concentration in plants (µg/kg, dw)</text>
<path d="M150.75,828.21 L151.32,827.08 L151.87,825.96 L152.43,824.84 L152.99,823.72 L153.54,822.60 L154.09,821.48 L154.63,820.35 L155.18,819.23 L155.72,818.11 L156.26,816.99 L156.80,815.88 L157.34,814.76 L157.87,813.64 L158.41,812.52 L158.94,811.40 L159.47,810.28 L159.99,809.17 L160.52,808.05 L161.05,806.93 L161.57,805.82 L162.09,804.70 L162.61,803.58 L163.13,802.47 L163.65,801.35 L164.16,800.24 L164.68,799.12 L165.19,798.01 L165.70,796.89 L166.22,795.78 L166.73,794.66 L167.24,793.55 L167.75,792.44 L168.26,791.32 L168.76,790.21 L169.27,789.09 L169.78,787.98 L170.28,786.87 L170.79,785.75 L171.29,784.64 L171.80,783.53 L172.30,782.41 L172.80,781.30 L173.31,780.19 L173.81,779.08 L174.32,777.96 L174.82,776.85 L175.32,775.74 L175.83,774.63 L176.33,773.51 L176.83,772.40 L177.34,771.29 L177.84,770.18 L178.35,769.06 L178.85,767.95 L179.36,766.84 L179.86,765.73 L180.37,764.61 L180.88,763.50 L181.38,762.39 L181.89,761.28 L182.40,760.16 L182.91,759.05 L183.42,757.94 L183.93,756.82 L184.45,755.71 L184.96,754.60 L185.48,753.48 L185.99,752.37 L186.51,751.26 L187.03,750.14 L187.55,749.03 L188.07,747.92 L188.60,746.80 L189.12,745.69 L189.65,744.57 L190.18,743.46 L190.71,742.34 L191.24,741.23 L191.77,740.11 L192.31,739.00 L192.84,737.88 L193.38,736.76 L193.93,735.65 L194.47,734.53 L195.01,733.41 L195.56,732.30 L196.11,731.18 L196.66,730.06 L197.22,728.94 L197.78,727.83 L198.34,726.71 L198.91,725.60 L199.48,724.49 L200.05,723.38 L200.63,722.27 L201.22,721.17 L201.81,720.07 L202.40,718.97 L203.01,717.88 L203.62,716.80 L204.24,715.72 L204.86,714.65 L205.49,713.58 L206.14,712.53 L206.79,711.48 L207.45,710.43 L208.12,709.40 L208.80,708.38 L209.49,707.36 L210.19,706.36 L210.90,705.37 L211.63,704.38 L212.36,703.41 L213.11,702.45 L213.87,701.51 L214.65,700.57 L215.43,699.65 L216.23,698.74 L217.04,697.84 L217.86,696.95 L218.69,696.07 L219.53,695.20 L220.38,694.34 L221.24,693.49 L222.11,692.65 L222.99,691.81 L223.87,690.98 L224.76,690.16 L225.66,689.34 L226.57,688.53 L227.48,687.72 L228.40,686.92 L229.32,686.13 L230.25,685.33 L231.18,684.54 L232.12,683.76 L233.06,682.97 L234.00,682.19 L234.95,681.41 L235.90,680.63 L236.85,679.85 L237.80,679.06 L238.75,678.28 L239.71,677.50 L240.66,676.72 L241.61,675.93 L242.57,675.14 L243.52,674.35 L244.47,673.55 L245.41,672.75 L246.36,671.95 L247.30,671.14 L248.24,670.32 L249.18,669.50 L250.11,668.67 L251.03,667.84 L251.96,667.00 L252.88,666.15 L253.79,665.30 L254.71,664.45 L255.62,663.59 L256.53,662.74 L257.44,661.88 L258.34,661.01 L259.25,660.15 L260.16,659.29 L261.06,658.43 L261.97,657.57 L262.88,656.72 L263.79,655.87 L264.71,655.02 L265.62,654.18 L266.54,653.34 L267.46,652.51 L268.39,651.68 L269.32,650.86 L270.25,650.05 L271.19,649.25 L272.14,648.46 L273.09,647.68 L274.04,646.91 L275.01,646.15 L275.98,645.41 L276.95,644.67 L277.94,643.96 L278.94,643.25 L279.94,642.56 L280.95,641.89 L281.97,641.23 L283.01,640.59 L284.05,639.97 L285.10,639.37 L286.17,638.79 L287.25,638.22 L288.33,637.68 L289.43,637.17 L290.53,636.70 L291.64,636.28 L292.75,635.91 L293.85,635.60 L294.95,635.35 L296.05,635.18 L297.13,635.10 L298.20,635.10 L299.26,635.21 L300.31,635.41 L301.33,635.72 L302.34,636.13 L303.33,636.62 L304.30,637.20 L305.25,637.87 L306.19,638.60 L307.10,639.41 L308.00,640.28 L308.88,641.22 L309.74,642.20 L310.59,643.24 L311.41,644.31 L312.21,645.43 L313.00,646.58 L313.76,647.76 L314.51,648.96 L315.24,650.17 L315.94,651.40 L316.63,652.63 L317.30,653.87 L317.94,655.10 L318.57,656.32 L319.17,657.53 L319.76,658.72 L320.33,659.90 L320.88,661.07 L321.42,662.22 L321.94,663.36 L322.44,664.50 L322.94,665.63 L323.43,666.74 L323.90,667.85 L324.37,668.96 L324.83,670.06 L325.29,671.15 L325.74,672.24 L326.19,673.33 L326.64,674.41 L327.09,675.50 L327.53,676.58 L327.98,677.66 L328.43,678.75 L328.88,679.83 L329.33,680.92 L329.79,682.00 L330.24,683.09 L330.69,684.18 L331.15,685.27 L331.61,686.36 L332.07,687.45 L332.52,688.54 L332.98,689.64 L333.44,690.74 L333.90,691.84 L334.37,692.94 L334.83,694.04 L335.29,695.15 L335.75,696.26 L336.22,697.37 L336.68,698.49 L337.14,699.61 L337.61,700.73 L338.07,701.86 L338.54,702.99 L339.00,704.12 L339.47,705.26 L339.93,706.40 L340.40,707.55 L340.86,708.70 L341.33,709.85 L341.79,711.01 L342.26,712.18 L342.72,713.35 L343.19,714.52 L343.65,715.71 L344.11,716.89 L344.58,718.08 L345.04,719.28 L345.50,720.48 L345.97,721.69 L346.44,722.89 L346.91,724.10 L347.38,725.31 L347.86,726.51 L348.35,727.71 L348.84,728.91 L349.34,730.10 L349.85,731.29 L350.37,732.46 L350.89,733.63 L351.43,734.79 L351.99,735.94 L352.55,737.07 L353.13,738.19 L353.72,739.29 L354.33,740.38 L354.96,741.44 L355.60,742.49 L356.26,743.52 L356.94,744.53 L357.64,745.52 L358.36,746.48 L359.10,747.41 L359.87,748.32 L360.66,749.20 L361.47,750.06 L362.31,750.88 L363.18,751.67 L364.07,752.43 L364.99,753.15 L365.94,753.84 L366.92,754.49 L367.93,755.11 L368.96,755.69 L370.02,756.23 L371.10,756.74 L372.21,757.20 L373.33,757.63 L374.48,758.03 L375.64,758.38 L376.81,758.70 L377.99,758.98 L379.19,759.22 L380.39,759.42 L381.60,759.59 L382.82,759.72 L384.04,759.81 L385.26,759.86 L386.48,759.87 L387.69,759.84 L388.90,759.78 L390.11,759.67 L391.31,759.54 L392.51,759.36 L393.71,759.16 L394.90,758.93 L396.08,758.67 L397.27,758.38 L398.45,758.07 L399.63,757.74 L400.81,757.39 L401.98,757.03 L403.16,756.64 L404.33,756.25 L405.50,755.84 L406.67,755.43 L407.84,755.00 L409.02,754.57 L410.19,754.14 L411.36,753.71 L412.54,753.28 L413.71,752.85 L414.89,752.43 L416.07,752.01 L417.25,751.60 L418.43,751.21 L419.62,750.82 L420.81,750.44 L422.00,750.07 L423.19,749.70 L424.38,749.35 L425.58,749.00 L426.77,748.65 L427.97,748.31 L429.17,747.98 L430.37,747.64 L431.56,747.32 L432.76,746.99 L433.96,746.67 L435.16,746.34 L436.35,746.02 L437.55,745.70 L438.75,745.38 L439.94,745.06 L441.13,744.73 L442.32,744.41 L443.51,744.08 L444.70,743.75 L445.89,743.41 L447.07,743.07 L448.25,742.72 L449.43,742.37 L450.60,742.01 L451.77,741.64 L452.94,741.27 L454.11,740.89 L455.27,740.50 L456.42,740.10 L457.58,739.69 L458.72,739.27 L459.87,738.84 L461.01,738.40 L462.15,737.96 L463.28,737.51 L464.41,737.05 L465.54,736.58 L466.66,736.10 L467.79,735.61 L468.90,735.12 L470.01,734.62 L471.12,734.11 L472.23,733.59 L473.33,733.07 L474.43,732.54 L475.53,732.00 L476.63,731.45 L477.72,730.90 L478.80,730.34 L479.89,729.77 L480.97,729.20 L482.05,728.62 L483.12,728.04 L484.20,727.45 L485.27,726.85 L486.33,726.25 L487.40,725.64 L488.46,725.02 L489.52,724.40 L490.58,723.78 L491.63,723.15 L492.68,722.51 L493.73,721.87 L494.78,721.22 L495.82,720.57 L496.86,719.92 L497.90,719.26 L498.94,718.59 L499.98,717.92 L501.01,717.25 L502.04,716.57 L503.07,715.89 L504.09,715.21 L505.12,714.52 L506.14,713.83 L507.16,713.13 L508.18,712.43 L509.20,711.73 L510.21,711.03 L511.23,710.32 L512.24,709.61 L513.25,708.89 L514.25,708.18 L515.26,707.46 L516.27,706.74 L517.27,706.01 L518.27,705.29 L519.27,704.56 L520.27,703.83 L521.27,703.10 L522.27,702.37 L523.26,701.63 L524.25,700.90 L525.25,700.16 L526.24,699.42 L527.23,698.69 L528.22,697.95 L529.21,697.20 L530.19,696.46 L531.18,695.72 L532.16,694.97 L533.15,694.23 L534.13,693.48 L535.11,692.73 L536.09,691.98 L537.07,691.23 L538.04,690.48 L539.02,689.73 L539.99,688.97 L540.97,688.22 L541.94,687.46 L542.91,686.70 L543.88,685.94 L544.84,685.18 L545.81,684.42 L546.78,683.65 L547.74,682.89 L548.70,682.12 L549.66,681.35 L550.62,680.58 L551.58,679.81 L552.54,679.04 L553.49,678.26 L554.45,677.49 L555.40,676.71 L556.35,675.93 L557.30,675.15 L558.25,674.37 L559.20,673.59 L560.14,672.81 L561.09,672.02 L562.03,671.23 L562.97,670.45 L563.91,669.65 L564.85,668.86 L565.78,668.07 L566.72,667.27 L567.65,666.48 L568.58,665.68 L569.51,664.88 L570.44,664.08 L571.37,663.28 L572.30,662.47 L573.22,661.67 L574.14,660.86 L575.06,660.05 L575.98,659.24 L576.90,658.42 L577.82,657.61 L578.73,656.79 L579.64,655.97 L580.56,655.15 L581.46,654.33 L582.37,653.51 L583.28,652.68 L584.18,651.86 L585.09,651.03 L585.99,650.20 L586.89,649.37 L587.78,648.53 L588.68,647.70 L589.58,646.86 L590.47,646.02 L591.36,645.18 L592.25,644.33 L593.14,643.49 L594.02,642.64 L594.90,641.79 L595.79,640.94 L596.67,640.09 L597.55,639.24 L598.42,638.38 L599.30,637.52 L600.17,636.66 L601.04,635.80 L601.91,634.93 L602.78,634.07 L603.64,633.20 L604.51,632.33 L605.37,631.45 L606.23,630.58 L607.09,629.70 L607.94,628.82 L608.80,627.94 L609.65,627.06 L610.50,626.18 L611.35,625.29 L612.19,624.40 L613.04,623.51 L613.88,622.61 L614.72,621.72 L615.56,620.82 L616.40,619.92 L617.23,619.02 L618.06,618.11 L618.90,617.21 L619.72,616.30 L620.55,615.39 L621.38,614.48 L622.20,613.56 L623.02,612.64 L623.84,611.72 L624.65,610.80 L625.47,609.88 L626.28,608.95 L627.09,608.02 L627.90,607.09 L628.70,606.16 L629.51,605.22 L630.31,604.28 L631.11,603.34 L631.91,602.40 L632.70,601.45 L633.49,600.51 L634.28,599.56 L635.07,598.60 L635.86,597.65 L636.64,596.69 L637.43,595.73 L638.21,594.77 L638.98,593.80 L639.76,592.84 L640.53,591.87 L641.30,590.89 L642.07,589.92 L642.84,588.94 L643.60,587.96 L644.36,586.98 L645.12,586.00 L645.88,585.01 L646.63,584.02 L647.39,583.03 L648.14,582.03 L648.89,581.03" stroke="#0000ff" stroke-width="1.35" fill="none" stroke-linejoin="round"/>
<path d="M150.23,768.64 L151.19,768.00 L152.14,767.35 L153.08,766.71 L154.02,766.05 L154.96,765.39 L155.89,764.73 L156.82,764.06 L157.74,763.39 L158.66,762.71 L159.57,762.03 L160.48,761.34 L161.38,760.65 L162.28,759.95 L163.18,759.25 L164.07,758.54 L164.95,757.83 L165.83,757.12 L166.71,756.40 L167.59,755.67 L168.46,754.95 L169.32,754.21 L170.18,753.48 L171.04,752.74 L171.90,751.99 L172.75,751.25 L173.59,750.50 L174.44,749.74 L175.28,748.98 L176.11,748.22 L176.95,747.45 L177.77,746.69 L178.60,745.91 L179.42,745.14 L180.24,744.36 L181.06,743.58 L181.87,742.79 L182.69,742.00 L183.49,741.21 L184.30,740.42 L185.10,739.62 L185.90,738.82 L186.70,738.01 L187.49,737.21 L188.28,736.40 L189.07,735.59 L189.86,734.77 L190.64,733.96 L191.42,733.14 L192.20,732.32 L192.98,731.50 L193.76,730.67 L194.53,729.84 L195.30,729.01 L196.07,728.18 L196.84,727.35 L197.60,726.51 L198.37,725.68 L199.13,724.84 L199.89,724.00 L200.65,723.15 L201.40,722.31 L202.16,721.46 L202.91,720.62 L203.67,719.77 L204.42,718.92 L205.17,718.07 L205.92,717.21 L206.66,716.36 L207.41,715.51 L208.16,714.65 L208.90,713.79 L209.65,712.94 L210.39,712.08 L211.13,711.22 L211.87,710.36 L212.61,709.50 L213.35,708.64 L214.09,707.78 L214.83,706.91 L215.57,706.05 L216.31,705.19 L217.05,704.32 L217.79,703.46 L218.53,702.60 L219.27,701.73 L220.00,700.87 L220.74,700.01 L221.48,699.14 L222.22,698.28 L222.96,697.42 L223.69,696.55 L224.43,695.69 L225.17,694.83 L225.91,693.97 L226.65,693.11 L227.40,692.25 L228.14,691.39 L228.88,690.53 L229.62,689.67 L230.37,688.82 L231.11,687.96 L231.86,687.11 L232.61,686.25 L233.36,685.40 L234.11,684.55 L234.86,683.70 L235.61,682.86 L236.37,682.01 L237.12,681.17 L237.88,680.32 L238.64,679.48 L239.40,678.64 L240.16,677.81 L240.93,676.97 L241.69,676.14 L242.46,675.31 L243.23,674.48 L244.00,673.66 L244.78,672.83 L245.56,672.01 L246.34,671.20 L247.12,670.38 L247.90,669.57 L248.69,668.76 L249.48,667.95 L250.27,667.15 L251.07,666.35 L251.87,665.55 L252.67,664.75 L253.47,663.96 L254.28,663.17 L255.09,662.39 L255.90,661.61 L256.72,660.83 L257.54,660.06 L258.36,659.29 L259.19,658.52 L260.02,657.76 L260.85,657.00 L261.69,656.24 L262.53,655.49 L263.38,654.75 L264.22,654.00 L265.08,653.26 L265.93,652.53 L266.80,651.80 L267.66,651.08 L268.53,650.36 L269.40,649.64 L270.28,648.93 L271.16,648.22 L272.05,647.52 L272.94,646.83 L273.84,646.14 L274.74,645.45 L275.64,644.77 L276.56,644.10 L277.47,643.43 L278.39,642.76 L279.32,642.10 L280.25,641.45 L281.18,640.80 L282.12,640.16 L283.07,639.52 L284.02,638.89 L284.98,638.27 L285.94,637.65 L286.91,637.04 L287.88,636.43 L288.86,635.82 L289.83,635.22 L290.81,634.62 L291.79,634.02 L292.76,633.41 L293.73,632.81 L294.70,632.20 L295.66,631.58 L296.62,630.96 L297.57,630.33 L298.50,629.69 L299.43,629.04 L300.35,628.38 L301.25,627.71 L302.14,627.02 L303.01,626.32 L303.87,625.60 L304.72,624.87 L305.55,624.12 L306.37,623.36 L307.17,622.59 L307.96,621.80 L308.75,621.01 L309.52,620.20 L310.28,619.37 L311.03,618.54 L311.76,617.70 L312.49,616.84 L313.21,615.98 L313.92,615.10 L314.63,614.22 L315.32,613.32 L316.01,612.42 L316.69,611.51 L317.36,610.59 L318.03,609.66 L318.69,608.73 L319.35,607.78 L320.00,606.84 L320.65,605.88 L321.29,604.92 L321.93,603.96 L322.57,602.99 L323.21,602.02 L323.84,601.05 L324.48,600.08 L325.11,599.10 L325.75,598.13 L326.39,597.15 L327.03,596.17 L327.67,595.20 L328.31,594.22 L328.96,593.25 L329.61,592.28 L330.26,591.32 L330.92,590.36 L331.59,589.40 L332.26,588.45 L332.93,587.50 L333.62,586.56 L334.31,585.63 L335.01,584.71 L335.72,583.79 L336.44,582.88 L337.17,581.98 L337.91,581.09 L338.66,580.22 L339.42,579.35 L340.19,578.49 L340.98,577.65 L341.78,576.82 L342.59,576.00 L343.42,575.20 L344.26,574.41 L345.12,573.64 L345.99,572.89 L346.87,572.15 L347.76,571.44 L348.66,570.75 L349.58,570.08 L350.50,569.44 L351.44,568.83 L352.38,568.24 L353.33,567.68 L354.29,567.15 L355.26,566.66 L356.24,566.19 L357.22,565.77 L358.21,565.38 L359.20,565.02 L360.20,564.71 L361.21,564.43 L362.22,564.20 L363.23,564.01 L364.24,563.86 L365.26,563.76 L366.28,563.71 L367.30,563.70 L368.32,563.75 L369.34,563.85 L370.37,563.99 L371.39,564.19 L372.41,564.43 L373.43,564.72 L374.45,565.05 L375.46,565.42 L376.48,565.84 L377.49,566.28 L378.50,566.77 L379.51,567.28 L380.51,567.83 L381.51,568.41 L382.50,569.01 L383.50,569.64 L384.48,570.29 L385.46,570.96 L386.44,571.65 L387.40,572.36 L388.37,573.09 L389.32,573.83 L390.27,574.57 L391.21,575.33 L392.15,576.10 L393.07,576.87 L393.99,577.65 L394.90,578.42 L395.80,579.20 L396.69,579.98 L397.57,580.75 L398.45,581.53 L399.32,582.31 L400.18,583.08 L401.03,583.86 L401.88,584.64 L402.72,585.42 L403.55,586.20 L404.38,586.97 L405.20,587.75 L406.02,588.53 L406.83,589.31 L407.64,590.09 L408.45,590.87 L409.25,591.65 L410.05,592.43 L410.84,593.21 L411.63,594.00 L412.42,594.78 L413.21,595.56 L414.00,596.34 L414.78,597.13 L415.56,597.91 L416.34,598.70 L417.13,599.48 L417.91,600.27 L418.69,601.05 L419.47,601.84 L420.25,602.63 L421.03,603.42 L421.82,604.21 L422.61,604.99 L423.39,605.78 L424.18,606.58 L424.98,607.37 L425.77,608.16 L426.57,608.95 L427.38,609.75 L428.18,610.54 L429.00,611.34 L429.81,612.13 L430.63,612.93 L431.46,613.73 L432.29,614.53 L433.13,615.32 L433.97,616.12 L434.82,616.91 L435.67,617.70 L436.54,618.48 L437.40,619.26 L438.28,620.03 L439.16,620.79 L440.05,621.54 L440.94,622.28 L441.84,623.01 L442.75,623.73 L443.67,624.43 L444.60,625.12 L445.53,625.79 L446.47,626.45 L447.42,627.09 L448.38,627.70 L449.34,628.30 L450.32,628.88 L451.30,629.43 L452.29,629.96 L453.29,630.47 L454.30,630.95 L455.32,631.40 L456.35,631.83 L457.39,632.23 L458.44,632.60 L459.50,632.93 L460.57,633.24 L461.65,633.51 L462.74,633.75 L463.84,633.96 L464.95,634.13 L466.06,634.28 L467.18,634.39 L468.30,634.47 L469.43,634.53 L470.56,634.55 L471.70,634.54 L472.83,634.51 L473.97,634.44 L475.11,634.35 L476.24,634.23 L477.38,634.09 L478.51,633.91 L479.64,633.71 L480.76,633.49 L481.88,633.24 L482.99,632.96 L484.10,632.66 L485.20,632.33 L486.29,631.98 L487.37,631.61 L488.44,631.21 L489.49,630.79 L490.54,630.34 L491.57,629.88 L492.60,629.39 L493.60,628.88 L494.59,628.35 L495.57,627.80 L496.54,627.23 L497.49,626.65 L498.44,626.04 L499.37,625.42 L500.29,624.78 L501.20,624.13 L502.10,623.46 L503.00,622.78 L503.88,622.09 L504.76,621.38 L505.62,620.66 L506.49,619.93 L507.34,619.19 L508.19,618.44 L509.03,617.68 L509.87,616.92 L510.70,616.15 L511.53,615.37 L512.36,614.58 L513.18,613.79 L514.00,613.00 L514.82,612.20 L515.64,611.40 L516.45,610.59 L517.27,609.79 L518.08,608.98 L518.90,608.18 L519.72,607.37 L520.53,606.57 L521.35,605.77 L522.18,604.97 L523.00,604.18 L523.83,603.39 L524.67,602.61 L525.50,601.83 L526.34,601.06 L527.19,600.29 L528.03,599.52 L528.88,598.76 L529.74,598.00 L530.59,597.25 L531.45,596.50 L532.31,595.76 L533.18,595.01 L534.05,594.28 L534.92,593.54 L535.79,592.81 L536.66,592.08 L537.54,591.36 L538.42,590.64 L539.30,589.92 L540.18,589.20 L541.07,588.49 L541.95,587.78 L542.84,587.07 L543.73,586.36 L544.62,585.65 L545.51,584.95 L546.41,584.25 L547.30,583.55 L548.20,582.85 L549.09,582.16 L549.99,581.46 L550.89,580.77 L551.78,580.07 L552.68,579.38 L553.58,578.69 L554.48,578.00 L555.38,577.31 L556.28,576.62 L557.18,575.93 L558.08,575.24 L558.97,574.55 L559.87,573.86 L560.77,573.17 L561.67,572.48 L562.57,571.79 L563.46,571.10 L564.36,570.41 L565.25,569.72 L566.14,569.03 L567.03,568.33 L567.92,567.64 L568.81,566.94 L569.70,566.24 L570.59,565.54 L571.47,564.84 L572.35,564.14 L573.23,563.43 L574.11,562.72 L574.99,562.02 L575.86,561.30 L576.74,560.59 L577.61,559.87 L578.47,559.15 L579.34,558.43 L580.20,557.71 L581.06,556.98 L581.91,556.25 L582.77,555.51 L583.61,554.77 L584.46,554.03 L585.30,553.29 L586.14,552.54 L586.98,551.78 L587.81,551.03 L588.64,550.27 L589.47,549.50 L590.29,548.73 L591.10,547.96 L591.92,547.18 L592.72,546.39 L593.53,545.60 L594.33,544.81 L595.12,544.01 L595.91,543.21 L596.70,542.40 L597.48,541.58 L598.26,540.76 L599.03,539.94 L599.79,539.10 L600.56,538.27 L601.32,537.43 L602.07,536.58 L602.82,535.73 L603.56,534.88 L604.30,534.02 L605.04,533.16 L605.77,532.29 L606.50,531.42 L607.23,530.54 L607.95,529.66 L608.67,528.78 L609.38,527.89 L610.09,527.00 L610.80,526.10 L611.50,525.20 L612.20,524.30 L612.89,523.40 L613.59,522.49 L614.28,521.58 L614.96,520.67 L615.64,519.75 L616.32,518.83 L617.00,517.91 L617.68,516.98 L618.35,516.05 L619.01,515.12 L619.68,514.19 L620.34,513.26 L621.00,512.32 L621.66,511.39 L622.32,510.45 L622.97,509.50 L623.62,508.56 L624.27,507.62 L624.91,506.67 L625.56,505.72 L626.20,504.77 L626.84,503.82 L627.48,502.87 L628.11,501.92 L628.75,500.97 L629.38,500.02 L630.01,499.06 L630.64,498.11 L631.26,497.15 L631.89,496.20 L632.51,495.24 L633.14,494.29 L633.76,493.33 L634.38,492.38 L635.00,491.42 L635.62,490.47 L636.23,489.51 L636.85,488.56 L637.46,487.60 L638.08,486.65 L638.69,485.70 L639.30,484.75 L639.92,483.80 L640.53,482.85 L641.14,481.90 L641.75,480.95 L642.36,480.01 L642.97,479.07 L643.58,478.12 L644.19,477.18 L644.79,476.25 L645.40,475.31 L646.01,474.37 L646.62,473.44 L647.23,472.51 L647.84,471.58 L648.45,470.66 L649.06,469.74" stroke="#ebb000" stroke-width="1.55" fill="none" stroke-linejoin="round"/>
<circle cx="150.50" cy="769.10" r="6.9" fill="#ebb000"/>
<circle cx="211.80" cy="715.20" r="6.9" fill="#ebb000"/>
<circle cx="260.00" cy="648.00" r="6.9" fill="#ebb000"/>
<circle cx="307.60" cy="635.20" r="6.9" fill="#ebb000"/>
<circle cx="355.40" cy="541.90" r="6.9" fill="#ebb000"/>
<circle cx="403.30" cy="585.70" r="6.9" fill="#ebb000"/>
<circle cx="471.50" cy="658.80" r="6.9" fill="#ebb000"/>
<circle cx="532.90" cy="589.20" r="6.9" fill="#ebb000"/>
<circle cx="594.40" cy="551.90" r="6.9" fill="#ebb000"/>
<circle cx="648.90" cy="468.90" r="6.9" fill="#ebb000"/>
<rect x="144.70" y="822.65" width="12.2" height="12.1" fill="#0000ff"/>
<rect x="205.90" y="681.55" width="12.2" height="12.1" fill="#0000ff"/>
<rect x="253.90" y="664.05" width="12.2" height="12.1" fill="#0000ff"/>
<rect x="301.50" y="594.95" width="12.2" height="12.1" fill="#0000ff"/>
<rect x="349.20" y="767.85" width="12.2" height="12.1" fill="#0000ff"/>
<rect x="397.10" y="748.05" width="12.2" height="12.1" fill="#0000ff"/>
<rect x="465.40" y="733.75" width="12.2" height="12.1" fill="#0000ff"/>
<rect x="526.40" y="689.45" width="12.2" height="12.1" fill="#0000ff"/>
<rect x="588.50" y="637.65" width="12.2" height="12.1" fill="#0000ff"/>
<rect x="642.70" y="575.55" width="12.2" height="12.1" fill="#0000ff"/>
<text class="xl" transform="translate(158.60,867.20) rotate(-20.5)" font-size="19.5" text-anchor="end" fill="#111">29 May</text>
<text class="xl" transform="translate(217.40,869.00) rotate(-20.5)" font-size="19.5" text-anchor="end" fill="#111">7 June</text>
<text class="xl" transform="translate(270.50,866.80) rotate(-20.5)" font-size="19.5" text-anchor="end" fill="#111">14 June</text>
<text class="xl" transform="translate(318.00,866.80) rotate(-20.5)" font-size="19.5" text-anchor="end" fill="#111">21 June</text>
<text class="xl" transform="translate(364.70,866.80) rotate(-20.5)" font-size="19.5" text-anchor="end" fill="#111">28 June</text>
<text class="xl" transform="translate(406.40,869.80) rotate(-20.5)" font-size="19.5" text-anchor="end" fill="#111">5 July</text>
<text class="xl" transform="translate(479.00,868.30) rotate(-20.5)" font-size="19.5" text-anchor="end" fill="#111">15 July</text>
<text class="xl" transform="translate(540.40,867.80) rotate(-20.5)" font-size="19.5" text-anchor="end" fill="#111">24 July</text>
<text class="xl" transform="translate(605.30,866.40) rotate(-20.5)" font-size="19.5" text-anchor="end" fill="#111">2 Augus</text>
<text class="xl" transform="translate(668.40,863.80) rotate(-20.5)" font-size="19.5" text-anchor="end" fill="#111">10 August</text>
</svg></body></html>
